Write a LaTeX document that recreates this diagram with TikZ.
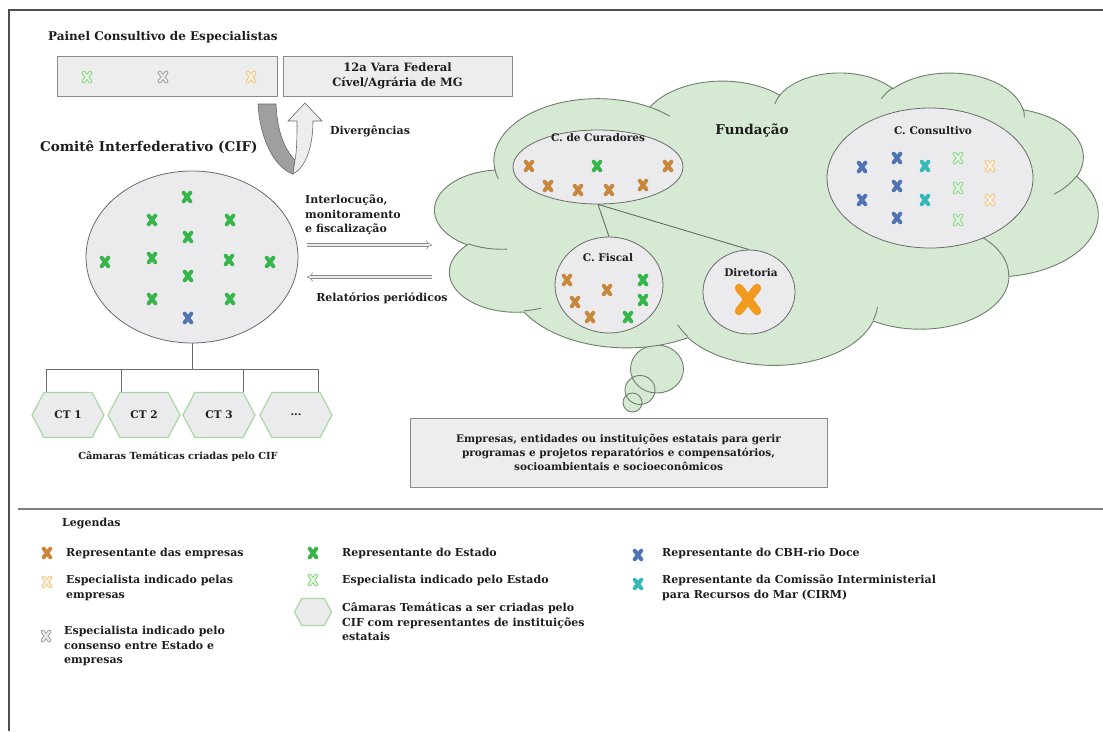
\documentclass[tikz,border=0pt]{standalone}
\usepackage{fontspec}
\setmainfont{DejaVu Serif}
\usetikzlibrary{arrows.meta,shapes.symbols,shapes.geometric,calc}
\definecolor{cloudfill}{HTML}{D6E9D2}
\definecolor{cloudline}{HTML}{6E7F6C}
\definecolor{boxfill}{HTML}{EDEDED}
\definecolor{boxline}{HTML}{8A8A8A}
\definecolor{ellfill}{HTML}{EBEBEE}
\definecolor{ellline}{HTML}{6A6A6A}
\definecolor{emp}{HTML}{C8873A}
\definecolor{est}{HTML}{35B54A}
\definecolor{cbh}{HTML}{4F73B3}
\definecolor{cirm}{HTML}{35B8B8}
\definecolor{espest}{HTML}{8FD98B}
\definecolor{espemp}{HTML}{F2C98A}
\definecolor{espcon}{HTML}{A8A8A8}
\definecolor{dirx}{HTML}{F29A1E}
\definecolor{hexline}{HTML}{A6D9A0}
\definecolor{framec}{HTML}{505050}
\definecolor{txtc}{HTML}{1E1E1E}
\newcommand{\XF}[3]{\draw[line width=4pt,line cap=round,draw=#3] (#1-3.3,#2-4.3) -- (#1+3.3,#2+4.3) (#1-3.3,#2+4.3) -- (#1+3.3,#2-4.3);}
\newcommand{\XO}[3]{\draw[line width=4.2pt,line cap=round,draw=#3] (#1-3.3,#2-4.3) -- (#1+3.3,#2+4.3) (#1-3.3,#2+4.3) -- (#1+3.3,#2-4.3);
 \draw[line width=2pt,line cap=round,draw=#3!22!white] (#1-3.3,#2-4.3) -- (#1+3.3,#2+4.3) (#1-3.3,#2+4.3) -- (#1+3.3,#2-4.3);}
\begin{document}
\begin{tikzpicture}[x=1pt,y=-1pt,
  txt/.style={font=\fontsize{11}{14.5}\selectfont\bfseries, inner sep=0pt, text=txtc},
  ttl/.style={font=\fontsize{12}{14}\selectfont\bfseries, inner sep=0pt, text=txtc},
  box/.style={draw=boxline, fill=boxfill, line width=0.8pt, inner sep=0pt},
  ell/.style={ellipse, draw=ellline, fill=ellfill, line width=0.8pt, inner sep=0pt},
  hexa/.style={signal, signal to=east and west, signal pointer angle=124, draw=hexline, fill=ellfill, line width=1.2pt, inner sep=0pt, minimum width=72pt, minimum height=45pt, font=\fontsize{10.5}{12}\selectfont\bfseries, text=txtc},
  tree/.style={draw=ellline, line width=0.9pt},
  harrow/.style={draw=boxline, line width=0.6pt, double=boxfill, double distance=2.6pt, -{Implies}},
  cloudst/.style={fill=cloudfill, draw=cloudline, line width=0.9pt}
]
\useasboundingbox (0,0) rectangle (1103,731);
\fill[white] (0,0) rectangle (1103,731);
% frame
\draw[framec, line width=1.8pt] (9,731) -- (9,10) -- (1103,10);
\draw[gray, line width=1.2pt] (18,509) -- (1103,509);

% top panel
\node[ttl, anchor=west] (ptitle) at (48,37) {Painel Consultivo de Especialistas};
\node[box, minimum width=220pt, minimum height=40pt] (painel) at (167,76) {};
\XO{87}{77}{espest}
\XO{163}{77}{espcon}
\XO{251}{77}{espemp}
\node[box, minimum width=229pt, minimum height=40pt] (vara) at (397.5,76) {};
\node[txt, align=center, font=\fontsize{11.5}{15}\selectfont\bfseries] (varatxt) at (vara.center) {12a Vara Federal\\Cível/Agrária de MG};

% U-turn arrow
\draw[fill=gray!75, draw=ellline, line width=0.6pt] (258,104) -- (276,104) .. controls (277,128) and (283,148) .. (295,160) -- (293,174) .. controls (275,168) and (260,140) .. (258,104) -- cycle;
\draw[fill=boxfill, draw=ellline, line width=0.6pt] (295,160) .. controls (297,150) and (297,135) .. (297,121) -- (288,121) -- (305,103) -- (322,121) -- (313,121) .. controls (313,148) and (305,168) .. (293,174) -- cycle;
\node[txt, anchor=west] (diverg) at (330,131) {Divergências};

% CIF
\node[ttl, anchor=west, font=\fontsize{13.5}{16}\selectfont\bfseries] (ctitle) at (40,147) {Comitê Interfederativo (CIF)};
\node[ell, minimum width=212pt, minimum height=172pt] (cif) at (192,257) {};
\XF{187}{197}{est}
\XF{152}{220}{est} \XF{230}{220}{est}
\XF{188}{237}{est}
\XF{105}{262}{est} \XF{152}{258}{est} \XF{229}{260}{est} \XF{270}{262}{est}
\XF{188}{276}{est}
\XF{152}{299}{est} \XF{230}{299}{est}
\XF{188}{318}{cbh}

% arrows CIF <-> Fundacao
\node[txt, anchor=north west, align=left] (interl) at (305,195) {Interlocução,\\monitoramento\\e fiscalização};
\coordinate (a1s) at (307,245); \coordinate (a1e) at (432,245);
\coordinate (a2s) at (432,277); \coordinate (a2e) at (307,277);
\draw[harrow] (a1s) -- (a1e);
\draw[harrow] (a2s) -- (a2e);
\node[txt] (relat) at (382,298) {Relatórios periódicos};

% Camaras tematicas
\node[hexa] (ct1) at (68,415) {CT 1};
\node[hexa] (ct2) at (144,415) {CT 2};
\node[hexa] (ct3) at (219,415) {CT 3};
\node[hexa] (ct4) at (296,415) {...};
\coordinate (bus) at (192,369);
\draw[tree] (cif.south) -- (bus);
\draw[tree] ($(ct1.north)+(-22,0)$) |- (bus);
\draw[tree] ($(ct2.north)+(-23,0)$) |- (bus);
\draw[tree] ($(ct3.north)+(24,0)$) |- (bus);
\draw[tree] ($(ct4.north)+(22,0)$) |- (bus);
\node[txt, font=\fontsize{9.8}{12}\selectfont\bfseries] (cttxt) at (178,457) {Câmaras Temáticas criadas pelo CIF};

% thought bubbles
\fill[cloudfill] (657,369) ellipse[x radius=26.5, y radius=24] (640,390) ellipse[x radius=15, y radius=14.5] (632.5,402.5) ellipse[x radius=9.5, y radius=9.5];
\draw[cloudline, line width=0.9pt] (657,369) ellipse[x radius=26.5, y radius=24] (640,390) ellipse[x radius=15, y radius=14.5] (632.5,402.5) ellipse[x radius=9.5, y radius=9.5];

% cloud (Fundacao)
\begin{scope}[shift={(435,72)}, x=1.5347pt, y=-0.6767pt]
\path[cloudst] (39.00,143.70)
 arc[start angle=172.253, delta angle=128.111, x radius=67.53, y radius=91.90]
 arc[start angle=-152.03, delta angle=106.60, x radius=53.33, y radius=72.67]
 arc[start angle=-153.49, delta angle=116.16, x radius=43.65, y radius=59.45]
 arc[start angle=-139.69, delta angle=129.48, x radius=48.57, y radius=65.95]
 arc[start angle=-74.77, delta angle=97.98, x radius=53.33, y radius=72.73]
 arc[start angle=-37.52, delta angle=119.38, x radius=67.75, y radius=92.20]
 arc[start angle=0.46, delta angle=121.52, x radius=57.85, y radius=78.67]
 arc[start angle=16.85, delta angle=129.41, x radius=67.52, y radius=92.15]
 arc[start angle=58.98, delta angle=91.22, x radius=77.20, y radius=105.43]
 arc[start angle=83.31, delta angle=139.80, x radius=43.60, y radius=59.18]
 arc[start angle=120.36, delta angle=143.75, x radius=43.45, y radius=59.45]
 -- cycle;
\draw[cloudline, line width=0.9pt]
 (46.93,261.77) arc[start angle=85.55, delta angle=34.81, x radius=43.45, y radius=59.45]
 (69.28,348.99) arc[start angle=68.24, delta angle=15.07, x radius=43.60, y radius=59.18]
 (164.78,390.90) arc[start angle=146.26, delta angle=12.21, x radius=67.52, y radius=92.15]
 (288.27,347.51) arc[start angle=4.74, delta angle=12.11, x radius=67.52, y radius=92.15]
 (341.29,229.54) arc[start angle=-64.03, delta angle=64.49, x radius=57.85, y radius=78.67]
 (417.98,153.54) arc[start angle=23.21, delta angle=26.44, x radius=53.33, y radius=72.73]
 (383.24,54.26) arc[start angle=-10.21, delta angle=11.03, x radius=48.57, y radius=65.95]
 (290.78,39.52) arc[start angle=-156.29, delta angle=16.60, x radius=48.57, y radius=65.95]
 (221.41,47.20) arc[start angle=-167.73, delta angle=14.24, x radius=43.65, y radius=59.45]
 (140.00,51.92) arc[start angle=-59.64, delta angle=13.90, x radius=67.53, y radius=91.90]
 (41.27,157.89) arc[start angle=163.19, delta angle=9.06, x radius=67.53, y radius=91.90];
\end{scope}
\node[ttl, font=\fontsize{13.5}{15}\selectfont\bfseries] (fund) at (752,130) {Fundação};

% Conselho de Curadores
\node[ell, minimum width=170pt, minimum height=74pt] (cur) at (598,167) {};
\node[txt, font=\fontsize{10.5}{12}\selectfont\bfseries] (curtxt) at (598,138) {C. de Curadores};
\XF{529}{166}{emp} \XF{597}{166}{est} \XF{668}{166}{emp}
\XF{548}{186}{emp} \XF{578}{190}{emp} \XF{609}{190}{emp} \XF{643}{185}{emp}

% Conselho Fiscal
\node[ell, minimum width=108pt, minimum height=96pt] (fis) at (609,285) {};
\node[txt, font=\fontsize{10.5}{12}\selectfont\bfseries] (fistxt) at (608,258) {C. Fiscal};
\XF{567}{280}{emp} \XF{607}{290}{emp} \XF{643}{280}{est}
\XF{575}{302}{emp} \XF{643}{300}{est}
\XF{590}{317}{emp} \XF{628}{317}{est}

% Diretoria
\node[ell, minimum width=92pt, minimum height=84pt] (dir) at (749,292) {};
\node[txt, font=\fontsize{10.5}{12}\selectfont\bfseries] (dirtxt) at (751,273) {Diretoria};
\draw[line width=8.5pt, line cap=round, draw=dirx] (739,288) -- (757,311) (739,311) -- (757,288);

\draw[tree] (cur.south) -- (fis.north);
\draw[tree] (cur.south) -- (dir.north);

% Conselho Consultivo
\node[ell, minimum width=206pt, minimum height=140pt] (cons) at (930,178) {};
\node[txt, font=\fontsize{10.5}{12}\selectfont\bfseries] (constxt) at (933,131) {C. Consultivo};
\XF{862}{167}{cbh} \XF{897}{158}{cbh} \XF{925}{166}{cirm} \XO{958}{158}{espest} \XO{990}{166}{espemp}
\XF{897}{186}{cbh} \XO{958}{188}{espest}
\XF{862}{200}{cbh} \XF{925}{200}{cirm} \XO{990}{200}{espemp}
\XF{897}{218}{cbh} \XO{958}{220}{espest}

% Empresas box
\node[box, minimum width=417pt, minimum height=69pt] (emprbox) at (618.5,452.5) {};
\node[txt, align=center, font=\fontsize{10.5}{14}\selectfont\bfseries] (emprtxt) at (emprbox.center) {Empresas, entidades ou instituições estatais para gerir\\programas e projetos reparatórios e compensatórios,\\socioambientais e socioeconômicos};

% Legend
\node[txt, anchor=west] (leg) at (62,524) {Legendas};
\XF{47}{553}{emp}
\node[txt, anchor=west] (l1) at (66,553) {Representante das empresas};
\XO{47}{582}{espemp}
\node[txt, anchor=west, align=left] (l2) at (66,588) {Especialista indicado pelas\\empresas};
\XO{46}{636}{espcon}
\node[txt, anchor=west, align=left] (l3) at (64,646) {Especialista indicado pelo\\consenso entre Estado e\\empresas};
\XF{313}{553}{est}
\node[txt, anchor=west] (l4) at (342,553) {Representante do Estado};
\XO{313}{580}{espest}
\node[txt, anchor=west] (l5) at (342,580) {Especialista indicado pelo Estado};
\node[hexa, minimum width=37pt, minimum height=27pt] (lhex) at (313,612) {};
\node[txt, anchor=west, align=left] (l6) at (342,622) {Câmaras Temáticas a ser criadas pelo\\CIF com representantes de instituições\\estatais};
\XF{638}{555}{cbh}
\node[txt, anchor=west] (l7) at (662,553) {Representante do CBH-rio Doce};
\XF{638}{584}{cirm}
\node[txt, anchor=west, align=left] (l8) at (662,588) {Representante da Comissão Interministerial\\para Recursos do Mar (CIRM)};
\end{tikzpicture}
\end{document}
